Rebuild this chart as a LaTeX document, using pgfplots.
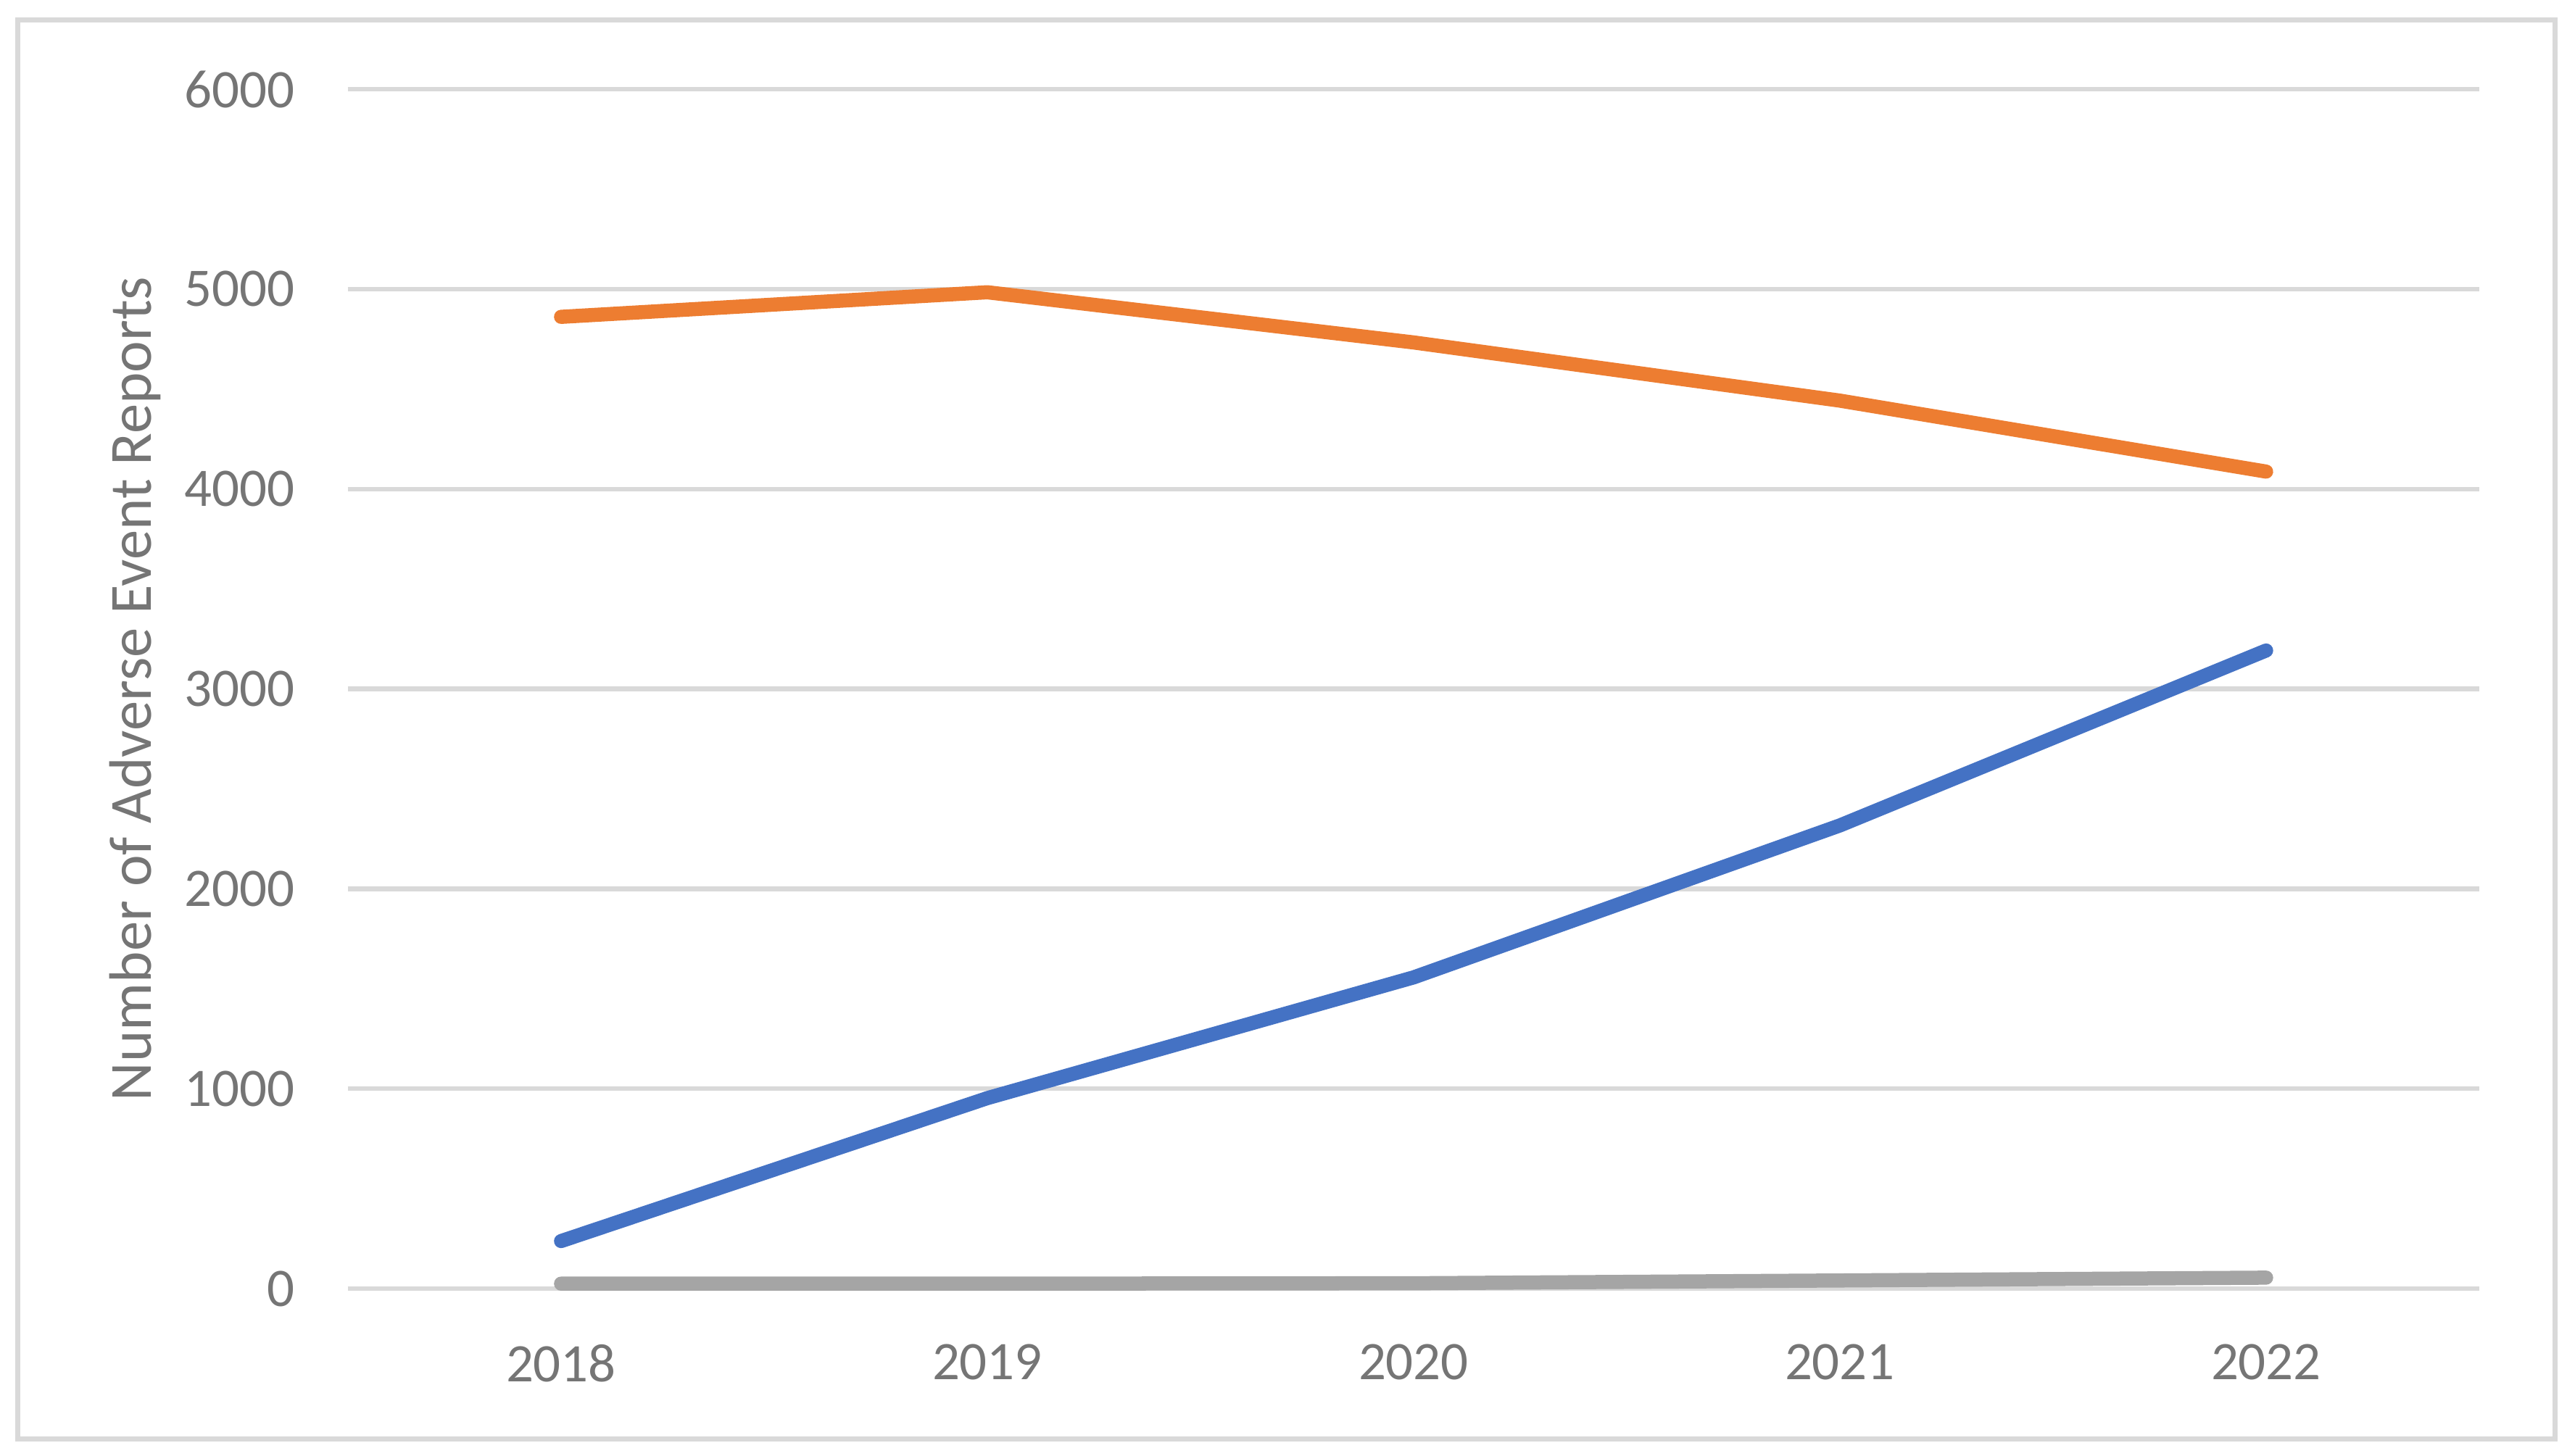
\documentclass[border=0pt]{standalone}
\usepackage{fontspec}
\setmainfont{Carlito}
\usepackage{pgfplots}
\pgfplotsset{compat=1.18}
\definecolor{cblue}{HTML}{4472C4}
\definecolor{corange}{HTML}{ED7D31}
\definecolor{cgray}{HTML}{A5A5A5}
\definecolor{cgrid}{HTML}{D9D9D9}
\definecolor{ctext}{HTML}{757575}
\begin{document}
\begin{tikzpicture}
\begin{axis}[
  scale only axis,
  width=13.244cm, height=7.456cm,
  xmin=-0.5, xmax=4.5,
  ymin=0, ymax=6000,
  xtick={0,1,2,3,4},
  xticklabels={2018,2019,2020,2021,2022},
  ytick={0,1000,2000,3000,4000,5000,6000},
  ymajorgrids,
  grid style={cgrid, line width=0.8pt},
  axis line style={draw=none},
  major tick length=0pt,
  tick label style={font=\fontsize{9.6}{11.5}\selectfont, text=ctext, inner sep=0pt},
  yticklabel style={anchor=east, xshift=-0.324cm},
  xticklabel style={anchor=north, yshift=-0.34cm},
  /pgf/number format/assume math mode=true,
  /pgf/number format/1000 sep={},
  ylabel={Number of Adverse Event Reports},
  ylabel style={at={(axis description cs:-0.0997,0.5)}, anchor=center, font=\fontsize{10.6}{13}\selectfont, text=ctext},
  clip=false,
  every axis plot/.append style={line width=2.5pt, line join=round, line cap=round, mark=none},
]
\addplot[cblue] coordinates {(0,238) (1,953) (2,1557) (3,2317) (4,3192)};
\addplot[corange] coordinates {(0,4861) (1,4984) (2,4733) (3,4442) (4,4087)};
\addplot[cgray] coordinates {(0,25) (1,25) (2,27) (3,41) (4,55)};
\end{axis}
\draw[cgrid, line width=0.9pt] ([shift={(-2.050cm,-0.933cm)}]current axis.south west) rectangle ([shift={(0.473cm,0.432cm)}]current axis.north east);
\pgfresetboundingbox
\path ([shift={(-2.162cm,-1.036cm)}]current axis.south west) rectangle ([shift={(0.595cm,0.554cm)}]current axis.north east);
\end{tikzpicture}
\end{document}
